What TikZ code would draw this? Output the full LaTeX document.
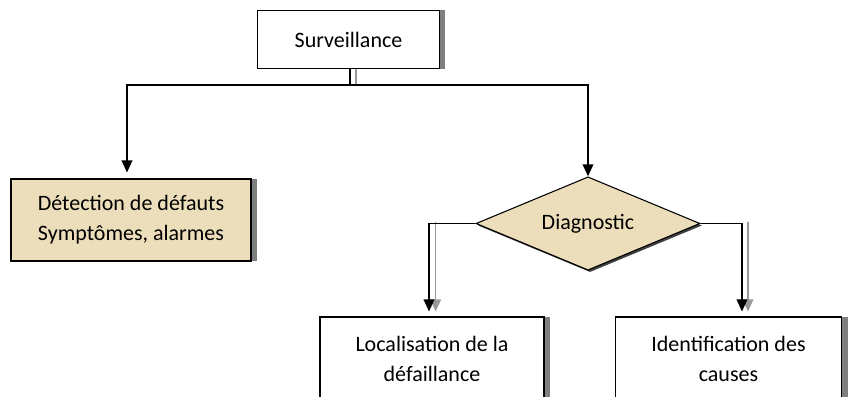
\documentclass[tikz,border=0pt]{standalone}
\usepackage{fontspec}
\setmainfont{Carlito}
\usetikzlibrary{shapes.geometric,shadows,arrows.meta,calc}
\definecolor{sand}{RGB}{236,222,186}

\begin{document}
\begin{tikzpicture}[x=0.75pt, y=-0.75pt, >={Triangle[width=8pt,length=9pt]},
    font=\fontsize{16.5}{22.5}\selectfont,
    box/.style={draw, line width=0.8pt, fill=white, align=center, inner sep=0pt,
      general shadow={shadow xshift=4.5pt, fill=black!50}},
    link/.style={line width=1.1pt},
    ghost/.style={line width=1.1pt, black!40}]
    \useasboundingbox (0,0) rectangle (855,396);
    \clip (0,0) rectangle (855,396);
    % boxes
    \node[box, minimum width=136pt, minimum height=44pt] (surv) at (348.5,39.5) {Surveillance};
    \node[box, fill=sand, minimum width=180pt, minimum height=61.5pt] (detect) at (131,220)
        {Détection de défauts\\Symptômes, alarmes};
    \node[draw, diamond, aspect=2.4, fill=sand, line width=0.8pt, inner sep=0pt,
        minimum width=168pt, minimum height=70pt,
        general shadow={shadow xshift=1.5pt, shadow yshift=-1.5pt, fill=black!75}]
        (diag) at (588,223.5) {Diagnostic};
    % lower boxes run past the bottom edge
    \node[box, minimum width=168pt, minimum height=63pt] (loc) at (432,359)
        {Localisation de la\\défaillance};
    \node[box, minimum width=170pt, minimum height=63pt] (ident) at (728.5,359)
        {Identification des\\causes};
    % split under Surveillance
    \coordinate (split) at (350,85);
    \draw[ghost] ($(split |- surv.south)+(4.5pt,0)$) -- ($(split)+(4.5pt,0)$);
    \draw[link] (split |- surv.south) -- (split);
    % two branches
    \draw[link, ->, shorten >=4.5pt] (split) -| ([xshift=-3pt]detect.north);
    \draw[link, ->] (split) -| (diag.north);
    % left branch of Diagnostic
    \draw[ghost, ->, shorten >=3.75pt] ($(diag.west -| loc.north)+(2.75pt,1.5pt)$)
        -- ([xshift=2.75pt]loc.north);
    \draw[link, ->, shorten >=3.75pt] (diag.west) -| ([xshift=-2.25pt]loc.north);
    % right branch of Diagnostic
    \draw[ghost, ->, shorten >=3.75pt] ($(diag.east -| ident.north)+(14.6pt,1.5pt)$)
        -- ([xshift=14.6pt]ident.north);
    \draw[link, ->, shorten >=3.75pt] (diag.east) -| ([xshift=10.1pt]ident.north);
\end{tikzpicture}
\end{document}
